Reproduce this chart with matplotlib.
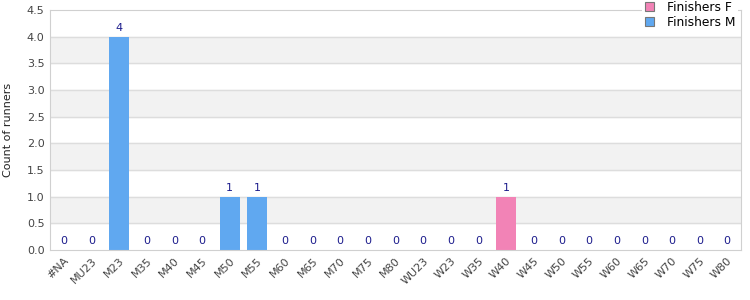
import matplotlib.pyplot as plt
import numpy as np

categories = ["#NA", "MU23", "M23", "M35", "M40", "M45", "M50", "M55", "M60", "M65",
              "M70", "M75", "M80", "WU23", "W23", "W35", "W40", "W45", "W50", "W55",
              "W60", "W65", "W70", "W75", "W80"]
finishers_f = [0, 0, 0, 0, 0, 0, 0, 0, 0, 0, 0, 0, 0, 0, 0, 0, 1, 0, 0, 0, 0, 0, 0, 0, 0]
finishers_m = [0, 0, 4, 0, 0, 0, 1, 1, 0, 0, 0, 0, 0, 0, 0, 0, 0, 0, 0, 0, 0, 0, 0, 0, 0]

x = np.arange(len(categories))
f = np.array(finishers_f)
m = np.array(finishers_m)
total = f + m

fig = plt.figure(figsize=(7.5, 3), dpi=100)
ax = fig.add_axes([50 / 750, 50 / 300, 691 / 750, 240 / 300])

# alternating bands
for lo in np.arange(0.5, 4.5, 1.0):
    ax.axhspan(lo, lo + 0.5, color="#f2f2f2", zorder=0)
for y in np.arange(0.5, 4.5, 0.5):
    ax.axhline(y, color="#dddddd", lw=1, zorder=1)

ax.bar(x, f, width=0.72, color="#f283b6", label="Finishers F", zorder=2)
ax.bar(x, m, width=0.72, bottom=f, color="#60a8f0", label="Finishers M", zorder=2)

for xi, t in zip(x, total):
    ax.text(xi, t + 0.07, str(t), ha="center", va="bottom", fontsize=8, color="#1c1c8c")

ax.set_xlim(-0.5, len(categories) - 0.5)
ax.set_ylim(0, 4.5)
ax.set_yticks(np.arange(0, 4.6, 0.5))
ax.set_yticklabels([f"{v:.1f}" for v in np.arange(0, 4.6, 0.5)])
ax.set_xticks(x)
ax.set_xticklabels(categories, rotation=45, ha="right", rotation_mode="anchor")
ax.tick_params(length=0, labelsize=8, colors="#444444", pad=4)
ax.set_ylabel("Count of runners", fontsize=8, color="#222222", labelpad=10)

for s in ax.spines.values():
    s.set_color("#d0d0d0")

leg = ax.legend(loc="upper right", bbox_to_anchor=(1.005, 1.075), fontsize=8.8,
                frameon=True, fancybox=False, edgecolor="none", facecolor="white",
                framealpha=1, handlelength=0.75, handleheight=0.75, borderpad=0.2,
                labelspacing=0.2, handletextpad=1.1)
for h in leg.legend_handles:
    h.set_edgecolor("#777777")
    h.set_linewidth(0.8)
leg.set_zorder(5)

fig.savefig("out.png", dpi=100)
